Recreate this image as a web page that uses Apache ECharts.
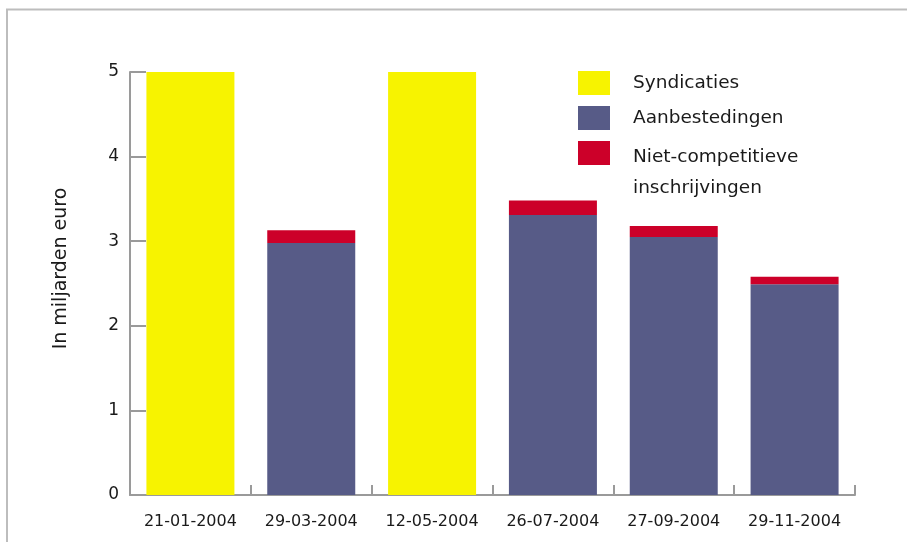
<!DOCTYPE html>
<html>
<head>
<meta charset="utf-8">
<script src="https://cdn.jsdelivr.net/npm/echarts@6/dist/echarts.min.js"></script>
<style>
  html, body { margin: 0; padding: 0; background: #fff; }
  #chart { width: 907px; height: 542px; }
</style>
</head>
<body>
<div id="chart"></div>
<script>
// Emissiedata 2004 (miljarden euro)
const dates = ['21-01-2004', '29-03-2004', '12-05-2004', '26-07-2004', '27-09-2004', '29-11-2004'];
const syndicaties = [5, '-', 5, '-', '-', '-'];
const aanbestedingen = ['-', 2.98, '-', 3.31, 3.05, 2.49];
const nietCompetitief = ['-', 0.15, '-', 0.17, 0.13, 0.09];
const yTicks = [0, 1, 2, 3, 4, 5];

const NAME_SYN = 'Syndicaties';
const NAME_AAN = 'Aanbestedingen';
const NAME_NC = 'Niet-competitieve\ninschrijvingen';

const FONT = 'DejaVu Sans';
const TEXT = '#1a1a1a';
const AXIS = '#9a9a9a';
const LEGEND_FONT = 18.5;

const chart = echarts.init(document.getElementById('chart'), null, { renderer: 'canvas' });

const legendBase = {
  orient: 'vertical',
  left: 578,
  padding: 0,
  itemWidth: 32,
  itemHeight: 24,
  itemGap: 11,
  icon: 'rect',
  selectedMode: false
};

chart.setOption({
  animation: false,
  backgroundColor: '#ffffff',
  textStyle: { fontFamily: FONT, color: TEXT },
  grid: { left: 130, right: 52, top: 72, bottom: 47, containLabel: false },
  legend: [
    Object.assign({}, legendBase, {
      top: 71,
      data: [NAME_SYN, NAME_AAN],
      textStyle: { fontFamily: FONT, fontSize: LEGEND_FONT, color: TEXT, padding: [0, 0, 0, 18] }
    }),
    // two-line entry: text block starts level with the swatch
    Object.assign({}, legendBase, {
      top: 102,
      data: [NAME_NC],
      formatter: function (name) {
        return name.split('\n').map(function (s) { return '{t|' + s + '}'; }).join('\n');
      },
      textStyle: {
        fontFamily: FONT, fontSize: LEGEND_FONT, color: TEXT, lineHeight: 31,
        padding: [40, 0, 0, 18],
        rich: { t: { fontFamily: FONT, fontSize: LEGEND_FONT, color: TEXT, lineHeight: 31 } }
      }
    })
  ],
  xAxis: {
    type: 'category',
    data: dates,
    boundaryGap: true,
    axisLine: { show: true, lineStyle: { color: AXIS, width: 2 } },
    axisTick: { show: true, inside: true, length: 10, interval: 0, alignWithLabel: false, lineStyle: { color: AXIS, width: 2 } },
    axisLabel: { fontFamily: FONT, fontSize: 16, color: TEXT, margin: 19, interval: 0, hideOverlap: false },
    splitLine: { show: false }
  },
  yAxis: {
    type: 'value',
    min: yTicks[0],
    max: yTicks[yTicks.length - 1],
    interval: 1,
    name: 'In miljarden euro',
    nameLocation: 'middle',
    nameGap: 59,
    nameTextStyle: { fontFamily: FONT, fontSize: 19, color: TEXT, padding: [0, 0, 0, 30] },
    axisLine: { show: true, lineStyle: { color: AXIS, width: 2 } },
    axisTick: { show: true, inside: true, length: 16, lineStyle: { color: AXIS, width: 2 } },
    axisLabel: { fontFamily: FONT, fontSize: 17, color: TEXT, margin: 11 },
    splitLine: { show: false }
  },
  graphic: [
    {
      type: 'polyline',
      shape: { points: [[7, 542], [7, 9.5], [907, 9.5]] },
      style: { stroke: '#bdbdbd', lineWidth: 2, fill: null },
      silent: true
    }
  ],
  series: [
    {
      name: NAME_SYN, type: 'bar', stack: 'totaal', data: syndicaties,
      barWidth: 88, itemStyle: { color: '#f7f300' }
    },
    {
      name: NAME_AAN, type: 'bar', stack: 'totaal', data: aanbestedingen,
      barWidth: 88, itemStyle: { color: '#575b87' }
    },
    {
      name: NAME_NC, type: 'bar', stack: 'totaal', data: nietCompetitief,
      barWidth: 88, itemStyle: { color: '#cc0029' }
    }
  ]
});
</script>
</body>
</html>
